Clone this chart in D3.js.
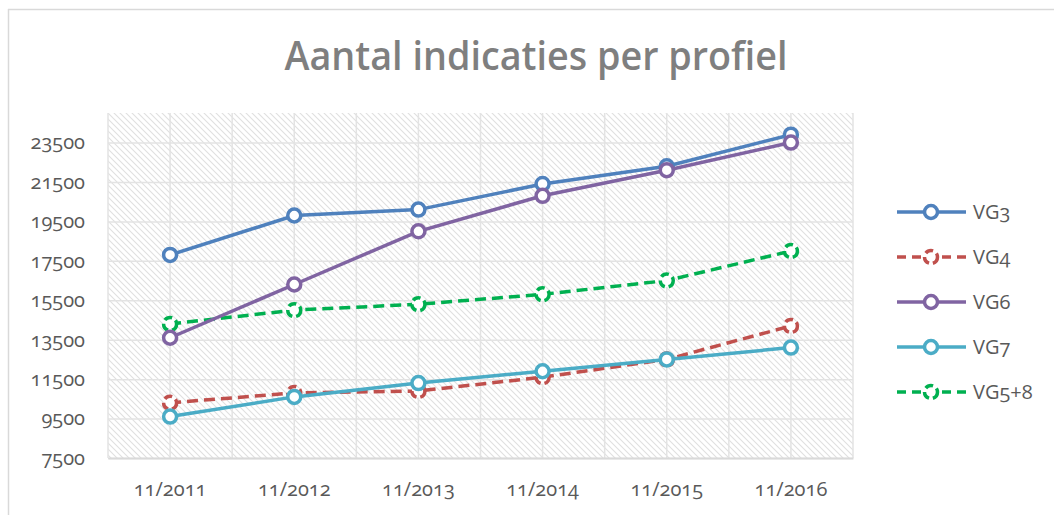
<!DOCTYPE html>
<html>
<head>
<meta charset="utf-8">
<script src="https://cdn.jsdelivr.net/npm/d3@7"></script>
<style>
  html, body { margin: 0; padding: 0; background: #fff; }
  svg text { font-family: "Open Sans", "Noto Sans", sans-serif; font-feature-settings: "onum"; font-variant-numeric: oldstyle-nums; }
</style>
</head>
<body>
<div id="chart"></div>
<script>
// data
const years = ['11/2011', '11/2012', '11/2013', '11/2014', '11/2015', '11/2016'];
const vg3  = [17800, 19800, 20100, 21400, 22300, 23900];
const vg4  = [10300, 10800, 10900, 11600, 12500, 14200];
const vg6  = [13600, 16300, 19000, 20800, 22100, 23500];
const vg7  = [9600, 10600, 11300, 11900, 12500, 13100];
const vg58 = [14300, 15000, 15300, 15800, 16500, 18000];
const yTicks = [7500, 9500, 11500, 13500, 15500, 17500, 19500, 21500, 23500];
const seriesNames = ['VG3', 'VG4', 'VG6', 'VG7', 'VG5+8'];

const series = [
    { name: 'VG3', values: vg3, color: '#4f81bd', dashed: false },
    { name: 'VG4', values: vg4, color: '#c0504d', dashed: true },
    { name: 'VG6', values: vg6, color: '#8064a2', dashed: false },
    { name: 'VG7', values: vg7, color: '#4bacc6', dashed: false },
    { name: 'VG5+8', values: vg58, color: '#00b050', dashed: true }
];
// drawing order as it looks in the picture
const drawOrder = ['VG3', 'VG4', 'VG5+8', 'VG6', 'VG7'];

const width = 1054, height = 515;
const margin = { top: 113, right: 201, bottom: 57, left: 108 };
const innerW = width - margin.left - margin.right;
const innerH = height - margin.top - margin.bottom;
const dash = '11,6';

const svg = d3.select('#chart')
    .append('svg')
    .attr('width', width)
    .attr('height', height);

/* hatch pattern of the plot area */
const defs = svg.append('defs');
const pat = defs.append('pattern')
    .attr('id', 'hatch')
    .attr('patternUnits', 'userSpaceOnUse')
    .attr('width', 6)
    .attr('height', 6);
pat.append('path')
    .attr('d', 'M-1,-1 L7,7 M-1,5 L1,7 M5,-1 L7,1')
    .attr('stroke', '#e0e0e0')
    .attr('stroke-width', 1.1);

/* chart border (only top and left visible) */
svg.append('line')
    .attr('x1', 8).attr('x2', width).attr('y1', 9.5).attr('y2', 9.5)
    .attr('stroke', '#d9d9d9').attr('stroke-width', 1.5);
svg.append('line')
    .attr('x1', 8.5).attr('x2', 8.5).attr('y1', 9).attr('y2', height)
    .attr('stroke', '#d9d9d9').attr('stroke-width', 1.5);

/* title */
svg.append('text')
    .text('Aantal indicaties per profiel')
    .attr('x', 536)
    .attr('y', 70)
    .attr('text-anchor', 'middle')
    .attr('fill', '#7f7f7f')
    .style('font-weight', 600)
    .style('font-size', '39px')
    .attr('textLength', 503)
    .attr('lengthAdjust', 'spacingAndGlyphs');

const g = svg.append('g')
    .attr('transform', `translate(${margin.left},${margin.top})`);

/* scales */
const xScale = d3.scaleBand()
    .domain(years)
    .range([0, innerW]);

const yScale = d3.scaleLinear()
    .domain([7500, 25000])
    .range([innerH, 0]);

/* plot area */
g.append('rect')
    .attr('width', innerW)
    .attr('height', innerH)
    .attr('fill', 'url(#hatch)');

/* vertical gridlines: band edges and centres */
const vLines = [];
years.forEach(y => {
    vLines.push(xScale(y));
    vLines.push(xScale(y) + xScale.bandwidth() / 2);
});
vLines.push(innerW);
g.append('g')
    .selectAll('line')
    .data(vLines)
    .join('line')
    .attr('x1', d => d).attr('x2', d => d)
    .attr('y1', 0).attr('y2', innerH)
    .attr('stroke', '#e3e3e3')
    .attr('stroke-width', 1.5);

/* y gridlines */
g.append('g')
    .call(d3.axisLeft(yScale).tickValues(yTicks).tickSize(-innerW).tickFormat(''))
    .call(a => a.select('.domain').remove())
    .selectAll('line')
    .attr('stroke', '#e3e3e3')
    .attr('stroke-width', 1.5);

/* y axis labels */
g.append('g')
    .call(d3.axisLeft(yScale).tickValues(yTicks).tickSize(0).tickPadding(23).tickFormat(d3.format('')))
    .call(a => a.select('.domain').remove())
    .selectAll('text')
    .attr('fill', '#595959')
    .style('font-size', '20px');

/* x axis */
g.append('g')
    .attr('transform', `translate(0,${innerH})`)
    .call(d3.axisBottom(xScale).tickSize(0).tickPadding(24))
    .call(a => a.select('.domain').attr('stroke', '#d9d9d9').attr('stroke-width', 2))
    .selectAll('text')
    .attr('fill', '#595959')
    .style('font-size', '20px');

const cx = d => xScale(d) + xScale.bandwidth() / 2;

const line = d3.line()
    .x(d => cx(d.year))
    .y(d => yScale(d.value));

drawOrder.forEach(name => {
    const s = series.find(d => d.name === name);
    const pts = years.map((y, i) => ({ year: y, value: s.values[i] }));
    g.append('path')
        .datum(pts)
        .attr('fill', 'none')
        .attr('stroke', s.color)
        .attr('stroke-width', 3.5)
        .attr('stroke-dasharray', s.dashed ? dash : null)
        .attr('d', line);
    g.append('g')
        .selectAll('circle')
        .data(pts)
        .join('circle')
        .attr('cx', d => cx(d.year))
        .attr('cy', d => yScale(d.value))
        .attr('r', 6.5)
        .attr('fill', '#fff')
        .attr('stroke', s.color)
        .attr('stroke-width', 3.5)
        .attr('stroke-dasharray', s.dashed ? '8,4' : null);
});

/* legend */
const legend = svg.append('g')
    .attr('transform', 'translate(897,212)');
const item = legend.selectAll('g')
    .data(seriesNames.map(n => series.find(s => s.name === n)))
    .join('g')
    .attr('transform', (d, i) => `translate(0,${i * 45})`);
item.append('line')
    .attr('x1', 0).attr('x2', 69)
    .attr('stroke', d => d.color)
    .attr('stroke-width', 3.5)
    .attr('stroke-dasharray', d => d.dashed ? '9,6' : null);
item.append('circle')
    .attr('cx', 34).attr('r', 6.5)
    .attr('fill', '#fff')
    .attr('stroke', d => d.color)
    .attr('stroke-width', 3.5)
    .attr('stroke-dasharray', d => d.dashed ? '8,4' : null);
item.append('text')
    .text(d => d.name)
    .attr('x', 76)
    .attr('y', 7)
    .attr('fill', '#595959')
    .style('font-size', '20px');
</script>
</body>
</html>
